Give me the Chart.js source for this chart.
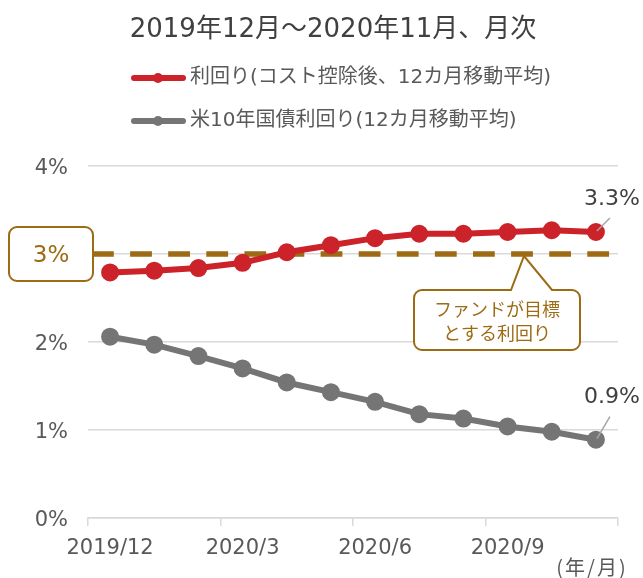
<!DOCTYPE html>
<html>
<head>
<meta charset="utf-8">
<script src="https://cdn.jsdelivr.net/npm/chart.js@4"></script>
<style>
  html, body { margin: 0; padding: 0; background: #fff; }
  #wrap { width: 643px; height: 578px; }
</style>
</head>
<body>
<div id="wrap"><canvas id="chart" width="643" height="578"></canvas></div>
<script>
const months = ["2019/12", "2020/1", "2020/2", "2020/3", "2020/4", "2020/5",
    "2020/6", "2020/7", "2020/8", "2020/9", "2020/10", "2020/11"];
const fundYield = [2.79, 2.81, 2.84, 2.90, 3.02, 3.10, 3.18, 3.23, 3.23, 3.25, 3.27, 3.25];
const usTreasury = [2.06, 1.97, 1.84, 1.70, 1.54, 1.43, 1.32, 1.18, 1.13, 1.04, 0.98, 0.89];
const seriesNames = ["利回り(コスト控除後、12カ月移動平均)", "米10年国債利回り(12カ月移動平均)"];
const endLabels = ["3.3%", "0.9%"];
const targetYield = 3;
const targetLabel = "3%";
const calloutLines = ["ファンドが目標", "とする利回り"];
const titleText = "2019年12月～2020年11月、月次";
const axisUnit = "(年/月)";

const JP = "'Noto Sans CJK JP', sans-serif";
const MIX = "'DejaVu Sans', 'Noto Sans CJK JP', sans-serif";
const RED = "#CC2229";
const GRAY = "#757575";
const GOLD = "#9C6B14";
const GRID = "#D9D9D9";

Chart.defaults.font.family = MIX;

const decor = {
    id: "decor",
    beforeDatasetsDraw(chart) {
        const { ctx, chartArea, scales } = chart;
        const y3 = scales.y.getPixelForValue(targetYield);
        ctx.save();
        ctx.strokeStyle = GOLD;
        ctx.lineWidth = 5.5;
        ctx.setLineDash([21.8, 16.3]);
        ctx.beginPath();
        ctx.moveTo(chartArea.left + 4, y3);
        ctx.lineTo(chartArea.right, y3);
        ctx.stroke();
        ctx.restore();
    },
    afterDraw(chart) {
        const { ctx, scales } = chart;
        const y3 = scales.y.getPixelForValue(targetYield);
        ctx.save();

        // title
        ctx.fillStyle = "#404040";
        ctx.textAlign = "center";
        ctx.textBaseline = "middle";
        ctx.font = "26px " + MIX;
        ctx.fillText(titleText, 333, 30);

        // legend
        const colors = [RED, GRAY];
        [78, 121].forEach((ly, i) => {
            ctx.strokeStyle = colors[i];
            ctx.fillStyle = colors[i];
            ctx.lineWidth = 6;
            ctx.lineCap = "round";
            ctx.beginPath();
            ctx.moveTo(134, ly);
            ctx.lineTo(183, ly);
            ctx.stroke();
            ctx.beginPath();
            ctx.arc(158, ly, 5, 0, Math.PI * 2);
            ctx.fill();
            ctx.fillStyle = "#595959";
            ctx.textAlign = "left";
            ctx.font = "20px " + MIX;
            ctx.fillText(seriesNames[i], 190, ly);
        });
        ctx.lineCap = "butt";

        // 3% box
        ctx.lineWidth = 2;
        ctx.strokeStyle = GOLD;
        ctx.fillStyle = "#fff";
        ctx.beginPath();
        ctx.roundRect(9, y3 - 27, 84, 54, 8);
        ctx.fill();
        ctx.stroke();
        ctx.fillStyle = GOLD;
        ctx.textAlign = "center";
        ctx.font = "23px " + MIX;
        ctx.fillText(targetLabel, 51, y3 + 2);

        // callout
        const bx = 414, by = 290, bw = 166, bh = 60, r = 8;
        ctx.beginPath();
        ctx.moveTo(bx + r, by);
        ctx.lineTo(511, by);
        ctx.lineTo(524, y3 + 2);
        ctx.lineTo(552, by);
        ctx.lineTo(bx + bw - r, by);
        ctx.arcTo(bx + bw, by, bx + bw, by + r, r);
        ctx.lineTo(bx + bw, by + bh - r);
        ctx.arcTo(bx + bw, by + bh, bx + bw - r, by + bh, r);
        ctx.lineTo(bx + r, by + bh);
        ctx.arcTo(bx, by + bh, bx, by + bh - r, r);
        ctx.lineTo(bx, by + r);
        ctx.arcTo(bx, by, bx + r, by, r);
        ctx.closePath();
        ctx.fillStyle = "#fff";
        ctx.fill();
        ctx.lineWidth = 2;
        ctx.strokeStyle = GOLD;
        ctx.stroke();
        ctx.fillStyle = GOLD;
        ctx.font = "18px " + JP;
        ctx.fillText(calloutLines[0], bx + bw / 2, 309);
        ctx.fillText(calloutLines[1], bx + bw / 2, 333);

        // end labels
        const last = months.length - 1;
        const px = scales.x.getPixelForValue(last);
        [fundYield, usTreasury].forEach((d, i) => {
            const py = scales.y.getPixelForValue(d[last]);
            const off = i === 0 ? 14 : 23;
            ctx.strokeStyle = "#A6A6A6";
            ctx.lineWidth = 1.5;
            ctx.beginPath();
            ctx.moveTo(px + 1, py - 1);
            ctx.lineTo(px + 14, py - off);
            ctx.stroke();
            ctx.fillStyle = "#404040";
            ctx.font = "22px " + MIX;
            ctx.textAlign = "center";
            ctx.fillText(endLabels[i], px + 16, py - off - 19);
        });

        // unit
        ctx.fillStyle = "#595959";
        ctx.font = "20px " + JP;
        ctx.letterSpacing = "2px";
        ctx.textAlign = "center";
        ctx.fillText(axisUnit, 592, 567);
        ctx.letterSpacing = "0px";

        ctx.restore();
    }
};

new Chart(document.getElementById("chart"), {
    type: "line",
    data: {
        labels: months,
        datasets: [
            {
                label: seriesNames[0],
                data: fundYield,
                borderColor: RED,
                backgroundColor: RED,
                borderWidth: 6,
                pointRadius: 6,
                pointHoverRadius: 6,
                fill: false,
                tension: 0
            },
            {
                label: seriesNames[1],
                data: usTreasury,
                borderColor: GRAY,
                backgroundColor: GRAY,
                borderWidth: 6,
                pointRadius: 6,
                pointHoverRadius: 6,
                fill: false,
                tension: 0
            }
        ]
    },
    options: {
        responsive: false,
        animation: false,
        layout: { padding: { top: 166, right: 25, bottom: 0, left: 0 } },
        plugins: {
            legend: { display: false },
            title: { display: false },
            tooltip: { enabled: false }
        },
        scales: {
            x: {
                offset: true,
                afterFit: s => { s.height = 60; },
                grid: {
                    offset: true,
                    drawOnChartArea: false,
                    drawTicks: true,
                    tickLength: 8,
                    lineWidth: 1.5,
                    color: c => (c.type !== "tick" || c.index % 3 === 0) ? GRID : "rgba(0,0,0,0)"
                },
                border: { display: true, color: GRID, width: 1.5 },
                ticks: {
                    autoSkip: false,
                    maxRotation: 0,
                    padding: 10,
                    color: "#595959",
                    font: { size: 21 },
                    callback: (v, i) => i % 3 === 0 ? months[i] : ""
                }
            },
            y: {
                min: 0,
                max: 4,
                afterFit: s => { s.width = 88; },
                grid: { color: GRID, lineWidth: 1.5, drawTicks: false },
                border: { display: false },
                ticks: {
                    stepSize: 1,
                    padding: 20,
                    labelOffset: 3,
                    color: "#595959",
                    font: { size: 21 },
                    callback: v => v + "%"
                }
            }
        }
    },
    plugins: [decor]
});
</script>
</body>
</html>
